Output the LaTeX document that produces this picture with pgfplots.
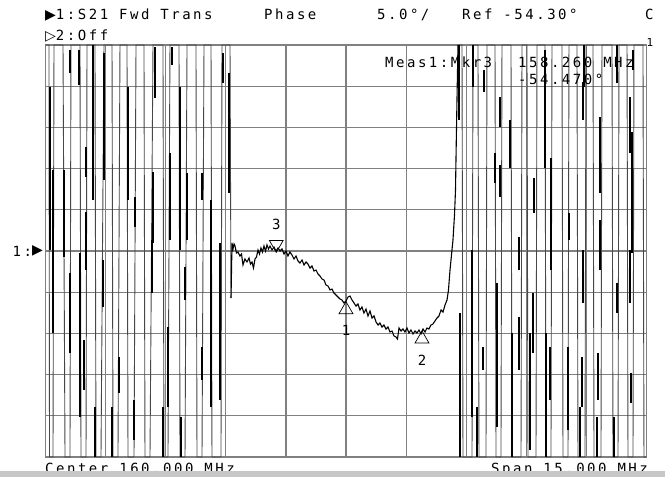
\documentclass[border=0pt]{standalone}
\usepackage{pgfplots}
\pgfplotsset{compat=1.18}
\usepackage{fontspec}
\setmainfont{DejaVu Sans Mono}[LetterSpace=18]
\newfontfamily\symf{DejaVu Sans}
\begin{document}
\begin{tikzpicture}[x=1pt,y=1pt]
\path[use as bounding box] (0,0) rectangle (665,477);
\begin{axis}[
  at={(45.5pt,20pt)}, anchor=south west,
  width=601pt, height=412pt, scale only axis,
  xmin=152.5, xmax=167.5, ymin=-79.3, ymax=-29.3,
  xtick={154,155.5,157,158.5,160,161.5,163,164.5,166},
  ytick={-74.3,-69.3,-64.3,-59.3,-54.3,-49.3,-44.3,-39.3,-34.3},
  xticklabels={}, yticklabels={},
  major tick length=0pt,
  grid=major,
  grid style={black!50, line width=1.2pt},
  axis line style={black!50, line width=1.2pt},
  clip=false,
  unbounded coords=jump,
]
% stopband (wrapped phase) traces, clipped at the graticule edges
\addplot[black!72, line width=0.9pt] table {
x y
152.500 -29.3
152.587 -29.3
152.600 -79.3
152.687 -79.3
152.712 -29.3
152.937 -29.3
152.987 -79.3
153.111 -79.3
153.136 -29.3
153.361 -29.3
153.386 -79.3
153.511 -79.3
153.536 -29.3
153.735 -29.3
153.760 -79.3
153.885 -79.3
153.960 -29.3
154.160 -29.3
154.185 -79.3
154.309 -79.3
154.359 -29.3
154.534 -29.3
154.559 -79.3
154.709 -79.3
154.759 -29.3
154.958 -29.3
154.983 -79.3
155.108 -79.3
155.183 -29.3
155.432 -29.3
155.457 -79.3
155.557 -79.3
155.607 -29.3
155.832 -29.3
155.857 -79.3
155.982 -79.3
156.032 -29.3
156.256 -29.3
156.281 -79.3
156.406 -79.3
156.456 -29.3
156.631 -29.3
156.655 -79.3
156.880 -79.3
156.905 -29.3
157.105 -29.3
157.130 -60.004
};
\addplot[black!72, line width=0.9pt] table {
x y
162.795 -29.3
162.895 -29.3
162.920 -79.3
163.145 -79.3
163.170 -29.3
163.294 -29.3
163.319 -79.3
163.494 -79.3
163.519 -29.3
163.719 -29.3
163.744 -79.3
163.868 -79.3
163.893 -29.3
164.118 -29.3
164.143 -79.3
164.368 -79.3
164.393 -29.3
164.517 -29.3
164.542 -79.3
164.742 -79.3
164.767 -29.3
164.967 -29.3
164.991 -79.3
165.116 -79.3
165.141 -29.3
165.391 -29.3
165.416 -79.3
165.541 -79.3
165.565 -29.3
165.765 -29.3
165.790 -79.3
165.965 -79.3
165.990 -29.3
166.165 -29.3
166.190 -79.3
166.364 -79.3
166.389 -29.3
166.639 -29.3
166.664 -79.3
166.789 -79.3
166.814 -29.3
167.014 -29.3
167.038 -79.3
167.163 -79.3
167.188 -29.3
167.412 -29.3
167.437 -79.3
167.500 -79.3
};
% dense (slowly varying) parts of the stopband trace
\addplot[black, line width=1.8pt] table {
x y
152.612 -34.361
152.612 -54.179
nan nan
152.695 -44.470
152.695 -64.251
nan nan
152.969 -44.470
152.969 -55.028
nan nan
153.111 -29.907
153.111 -32.698
nan nan
153.111 -56.970
153.111 -66.679
nan nan
153.336 -29.907
153.336 -34.154
nan nan
153.361 -54.543
153.361 -74.446
nan nan
153.468 -65.101
153.468 -71.169
nan nan
153.511 -41.679
153.511 -45.319
nan nan
153.511 -49.567
153.511 -56.606
nan nan
153.693 -29.3
153.693 -48.111
nan nan
153.735 -73.232
153.735 -79.3
nan nan
153.928 -55.392
153.928 -61.096
nan nan
153.968 -30.271
153.968 -45.683
nan nan
154.152 -73.232
154.152 -79.3
nan nan
154.342 -67.164
154.342 -71.533
nan nan
154.552 -34.397
154.552 -48.111
nan nan
154.734 -47.747
154.734 -51.387
nan nan
154.709 -72.382
154.709 -77.237
nan nan
155.151 -52.965
155.151 -59.397
nan nan
155.190 -44.713
155.190 -53.329
nan nan
155.233 -29.543
155.233 -35.732
nan nan
155.440 -73.232
155.440 -79.3
nan nan
155.565 -63.523
155.565 -73.232
nan nan
155.607 -42.407
155.607 -52.965
nan nan
155.650 -29.543
155.650 -31.727
nan nan
155.857 -34.397
155.857 -54.179
nan nan
155.882 -74.446
155.882 -79.3
nan nan
155.982 -56.242
155.982 -60.247
nan nan
156.024 -44.834
156.024 -52.965
nan nan
156.398 -65.950
156.398 -69.955
nan nan
156.413 -44.834
156.413 -48.111
nan nan
156.631 -48.111
156.631 -73.232
nan nan
156.855 -53.329
156.855 -72.382
nan nan
156.938 -30.271
156.938 -33.912
nan nan
157.087 -32.698
157.087 -47.261
nan nan
162.828 -29.3
162.828 -38.402
nan nan
163.177 -29.3
163.177 -34.397
nan nan
163.452 -32.334
163.452 -35.004
nan nan
163.719 -42.407
163.719 -46.048
nan nan
163.843 -35.611
163.843 -39.251
nan nan
163.843 -43.863
163.843 -47.747
nan nan
164.093 -38.402
164.093 -44.227
nan nan
164.318 -52.601
164.318 -56.606
nan nan
164.700 -45.441
164.700 -49.688
nan nan
164.967 -29.907
164.967 -44.227
nan nan
165.109 -43.014
165.109 -56.606
nan nan
165.573 -49.688
165.573 -52.965
nan nan
165.922 -33.790
165.922 -38.402
nan nan
165.947 -29.3
165.947 -34.397
nan nan
166.339 -38.038
166.339 -47.261
nan nan
166.339 -50.538
166.339 -56.606
nan nan
166.756 -29.3
166.756 -33.912
nan nan
167.088 -35.611
167.088 -42.407
nan nan
167.130 -39.858
167.130 -54.543
nan nan
167.170 -29.907
167.170 -32.334
nan nan
162.845 -61.824
162.845 -79.3
nan nan
163.137 -54.179
163.137 -74.446
nan nan
163.262 -73.232
163.262 -79.3
nan nan
163.427 -65.950
163.427 -68.742
nan nan
163.761 -58.183
163.761 -75.659
nan nan
164.136 -64.251
164.136 -79.3
nan nan
164.325 -62.310
164.325 -68.742
nan nan
164.592 -64.251
164.592 -78.450
nan nan
164.675 -59.397
164.675 -66.679
nan nan
164.991 -64.251
164.991 -79.3
nan nan
165.091 -65.950
165.091 -72.382
nan nan
165.533 -65.950
165.533 -76.023
nan nan
165.840 -73.232
165.840 -79.3
nan nan
165.883 -67.164
165.883 -73.232
nan nan
165.922 -54.179
165.922 -60.611
nan nan
166.297 -66.679
166.297 -72.382
nan nan
166.257 -74.446
166.257 -79.3
nan nan
166.696 -74.446
166.696 -79.3
nan nan
166.756 -58.183
166.756 -61.824
nan nan
167.088 -54.179
167.088 -60.611
nan nan
167.113 -69.106
167.113 -72.747
};
% passband trace
\addplot[black, line width=1.1pt] table {
x y
157.130 -60.004
157.155 -53.329
157.180 -54.057
157.205 -53.450
157.230 -53.693
157.267 -54.543
157.304 -54.421
157.354 -54.907
157.392 -54.664
157.429 -55.999
157.479 -55.271
157.529 -55.635
157.579 -55.149
157.616 -55.878
157.654 -55.635
157.691 -56.363
157.729 -55.271
157.766 -55.028
157.804 -54.179
157.841 -54.664
157.878 -53.936
157.916 -54.421
157.953 -53.693
157.991 -54.300
158.028 -53.572
158.066 -54.057
158.103 -53.693
158.153 -54.179
158.203 -53.815
158.253 -54.300
158.303 -53.936
158.353 -54.300
158.403 -54.057
158.453 -54.664
158.502 -54.300
158.552 -54.907
158.602 -54.421
158.652 -54.785
158.702 -55.271
158.752 -54.907
158.802 -55.514
158.852 -55.756
158.902 -55.392
158.952 -55.999
159.002 -55.635
159.051 -55.878
159.101 -56.363
159.151 -56.120
159.201 -56.727
159.251 -56.606
159.301 -57.090
159.351 -57.334
159.401 -57.698
159.451 -57.819
159.501 -58.426
159.551 -58.548
159.601 -59.033
159.650 -58.912
159.700 -59.397
159.750 -59.640
159.800 -59.882
159.850 -60.125
159.900 -60.247
159.950 -60.611
160.000 -60.368
160.050 -59.882
160.100 -59.761
160.150 -60.247
160.200 -60.611
160.249 -60.975
160.299 -60.732
160.349 -61.460
160.399 -61.096
160.449 -61.824
160.499 -61.339
160.549 -62.188
160.599 -61.581
160.649 -62.431
160.699 -62.188
160.749 -62.916
160.799 -63.281
160.848 -63.038
160.898 -63.523
160.948 -63.281
160.998 -63.766
161.048 -63.523
161.098 -64.130
161.148 -64.009
161.198 -64.615
161.248 -64.737
161.285 -64.980
161.323 -63.645
161.373 -64.009
161.423 -63.766
161.472 -64.130
161.522 -63.645
161.572 -64.251
161.622 -63.887
161.672 -64.373
161.722 -64.009
161.772 -64.251
161.822 -63.887
161.872 -64.373
161.922 -63.766
161.972 -64.130
162.021 -63.645
162.071 -63.766
162.121 -63.281
162.171 -63.159
162.221 -62.795
162.271 -62.431
162.321 -62.188
162.371 -61.460
162.421 -61.703
162.471 -60.853
162.521 -60.247
162.558 -59.033
162.596 -56.606
162.633 -54.785
162.670 -52.965
162.708 -49.931
162.733 -46.897
162.753 -40.829
162.770 -35.975
162.795 -29.3
};
% markers 1 and 2 (below the trace)
\addplot[only marks, mark=triangle, mark size=8pt,
  mark options={yshift=-8pt, draw=black, fill=white, line width=0.7pt},
  point meta=explicit symbolic, nodes near coords,
  every node near coord/.style={anchor=center, yshift=-21pt, font=\fontsize{14}{16}\selectfont, inner sep=0pt}]
  table[meta=m] {
x y m
160.000 -60.45 1
161.897 -64.00 2
};
% marker 3 (above the trace)
\addplot[only marks, mark=triangle, mark size=8pt,
  mark options={yshift=8pt, rotate=180, draw=black, fill=white, line width=0.7pt},
  point meta=explicit symbolic, nodes near coords,
  every node near coord/.style={anchor=center, yshift=20pt, font=\fontsize{14}{16}\selectfont, inner sep=0pt}]
  table[meta=m] {
x y m
158.260 -54.47 3
};
\end{axis}
\fontsize{14}{16}\selectfont
\node[anchor=base west, inner sep=0pt] at (45,457) {{\symf ▶}1:S21 Fwd Trans};
\node[anchor=base west, inner sep=0pt] at (264,457) {Phase};
\node[anchor=base west, inner sep=0pt] at (377,457) {5.0°/};
\node[anchor=base west, inner sep=0pt] at (462,457) {Ref -54.30°};
\node[anchor=base west, inner sep=0pt] at (645,457) {C};
\node[anchor=base west, inner sep=0pt] at (45,436) {{\symf ▷}2:Off};
\node[anchor=base west, inner sep=0pt] at (385,409) {Meas1:Mkr3};
\node[anchor=base west, inner sep=0pt] at (518,409) {158.260 MHz};
\node[anchor=base west, inner sep=0pt] at (518,392) {-54.470°};
\node[anchor=west, inner sep=0pt] at (12.5,226) {1:};
\node[anchor=west, inner sep=0pt] at (32,226) {\symf ▶};
\node[anchor=center, inner sep=0pt, font=\fontsize{11}{12}\selectfont] at (650,435) {1};
\node[anchor=base west, inner sep=0pt] at (45,3) {Center 160.000 MHz};
\node[anchor=base west, inner sep=0pt] at (491,3) {Span 15.000 MHz};
\fill[black!22] (0,0) rectangle (665,5.5);
\end{tikzpicture}
\end{document}
